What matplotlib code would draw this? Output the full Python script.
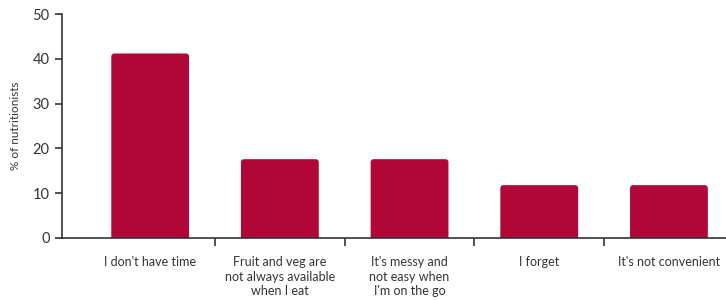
import matplotlib
matplotlib.use("Agg")
import matplotlib.pyplot as plt
from matplotlib.patches import FancyBboxPatch

categories = ["I don't have time",
              "Fruit and veg are\nnot always available\nwhen I eat",
              "It's messy and\nnot easy when\nI'm on the go",
              "I forget",
              "It's not convenient"]
values = [41.2, 17.6, 17.6, 11.8, 11.8]
yticks = [0, 10, 20, 30, 40, 50]

color = "#B00638"
text_color = "#333333"

plt.rcParams['font.family'] = ['Lato', 'DejaVu Sans']

fig = plt.figure(figsize=(7.26, 3.0), dpi=100)
ax = fig.add_axes([0.0854, 0.2067, 0.9146, 0.7463])

xs = list(range(len(categories)))
bw = 0.6
ax.set_xlim(-0.68, 4.44)
ax.set_ylim(0, 50)

# rounded-top bars
px_x = 0.9146 * 726 / (4.44 + 0.68)
px_y = 0.7463 * 300 / 50
r = 3.0 / px_x
aspect = (3.0 / px_y) / r
bars = ax.bar(xs, values, width=bw, color=color, alpha=0)
for b, v in zip(bars, values):
    p = FancyBboxPatch((b.get_x(), -3), b.get_width(), v + 3,
                       boxstyle=f"round,pad=0,rounding_size={r}",
                       mutation_aspect=aspect, facecolor=color,
                       edgecolor="none", clip_on=True)
    ax.add_patch(p)

for s in ["top", "right"]:
    ax.spines[s].set_visible(False)
for s in ["left", "bottom"]:
    ax.spines[s].set_color(text_color)
    ax.spines[s].set_linewidth(1.2)

ax.set_yticks(yticks)
ax.set_yticklabels([str(t) for t in yticks], fontsize=10.5, color=text_color)
ax.tick_params(axis="y", length=5, width=1.2, color=text_color, pad=4)

# category labels at centres, tick marks at boundaries
ax.set_xticks(xs)
ax.set_xticklabels(categories, fontsize=9, color=text_color, linespacing=1.25)
ax.tick_params(axis="x", length=0, pad=13)
ax.set_xticks([0.5, 1.5, 2.5, 3.5], minor=True)
ax.tick_params(axis="x", which="minor", length=6, width=1.2, color=text_color)

ax.set_ylabel("% of nutritionists", fontsize=8.5, color=text_color, labelpad=8)

fig.savefig("out.png", dpi=100)
